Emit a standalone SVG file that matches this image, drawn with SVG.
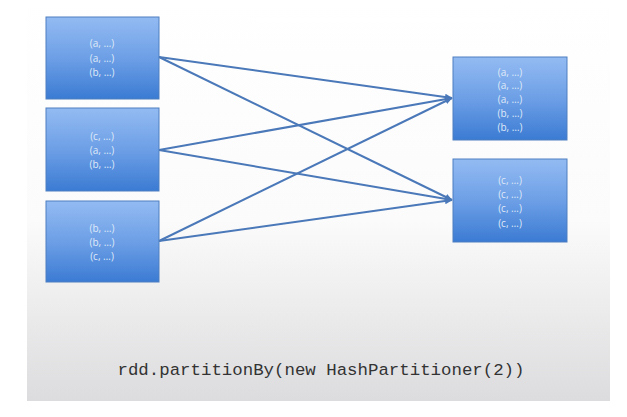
<svg xmlns="http://www.w3.org/2000/svg" width="627" height="417" viewBox="0 0 627 417">
<defs>
<linearGradient id="bg" x1="0" y1="0" x2="0" y2="1">
<stop offset="0" stop-color="#ffffff"/>
<stop offset="0.55" stop-color="#fbfbfb"/>
<stop offset="1" stop-color="#dcdcde"/>
</linearGradient>
<linearGradient id="box" x1="0" y1="0" x2="0" y2="1">
<stop offset="0" stop-color="#93bbf2"/>
<stop offset="0.5" stop-color="#6d9fe6"/>
<stop offset="1" stop-color="#3b7bd3"/>
</linearGradient>
<marker id="arr" markerWidth="8" markerHeight="8" refX="7" refY="4" orient="auto" markerUnits="userSpaceOnUse">
<path d="M0,0.8 L7.5,4 L0,7.2 Z" fill="#4a78b8"/>
</marker>
</defs>
<style>
.node rect{fill:url(#box);stroke:#4f7fbf;stroke-width:1}
.node text{font-family:"Open Sans","Liberation Sans",sans-serif;font-size:10px;fill:#dfe9f8;text-anchor:middle}
.edges line{stroke:#4a78b8;stroke-width:2;marker-end:url(#arr)}
</style>
<rect x="0" y="0" width="627" height="417" fill="#ffffff"/>
<rect x="27" y="0" width="583" height="401" fill="url(#bg)"/>
<g id="connectors" class="edges">
<line x1="159" y1="57" x2="452" y2="98"/>
<line x1="159" y1="57" x2="452" y2="200"/>
<line x1="159" y1="150" x2="452" y2="98"/>
<line x1="159" y1="150" x2="452" y2="200"/>
<line x1="159" y1="241" x2="452" y2="98"/>
<line x1="159" y1="241" x2="452" y2="200"/>
</g>
<g id="left1" class="node">
<rect x="46" y="17" width="113" height="82"/>
<text x="102" y="47">(a, …)</text>
<text x="102" y="62">(a, …)</text>
<text x="102" y="76">(b, …)</text>
</g>
<g id="left2" class="node">
<rect x="46" y="108" width="113" height="83"/>
<text x="102" y="140">(c, …)</text>
<text x="102" y="154">(a, …)</text>
<text x="102" y="168">(b, …)</text>
</g>
<g id="left3" class="node">
<rect x="46" y="201" width="113" height="81"/>
<text x="102" y="232">(b, …)</text>
<text x="102" y="246">(b, …)</text>
<text x="102" y="260">(c, …)</text>
</g>
<g id="right1" class="node">
<rect x="453" y="57" width="114" height="83"/>
<text x="510" y="76">(a, …)</text>
<text x="510" y="89">(a, …)</text>
<text x="510" y="103">(a, …)</text>
<text x="510" y="117">(b, …)</text>
<text x="510" y="131">(b, …)</text>
</g>
<g id="right2" class="node">
<rect x="453" y="159" width="114" height="83"/>
<text x="510" y="184">(c, …)</text>
<text x="510" y="198">(c, …)</text>
<text x="510" y="212">(c, …)</text>
<text x="510" y="227">(c, …)</text>
</g>
<text x="321" y="375" font-family="'Liberation Mono',monospace" font-size="17.4" fill="#333333" text-anchor="middle">rdd.partitionBy(new HashPartitioner(2))</text>
</svg>
